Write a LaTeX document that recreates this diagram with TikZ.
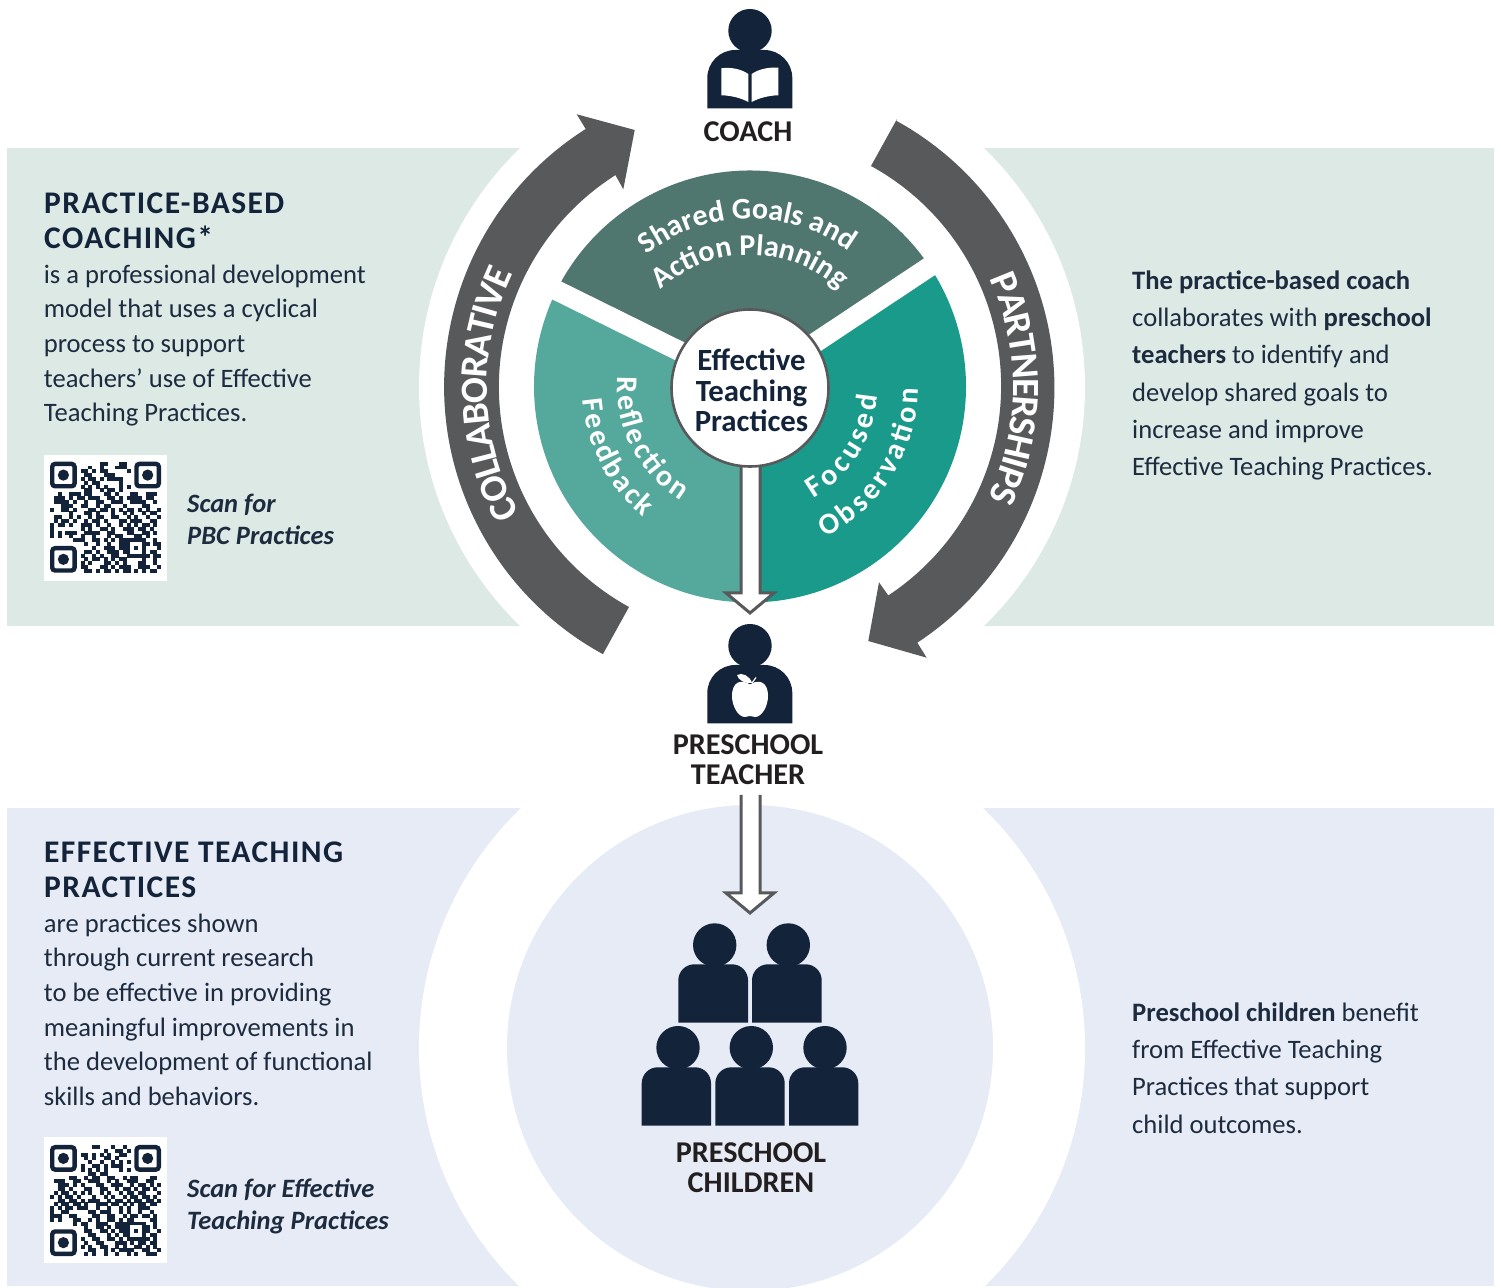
\documentclass[tikz,border=0pt]{standalone}
\usepackage{fontspec}
\setmainfont{Carlito}
\usetikzlibrary{decorations.text,calc}
\definecolor{navy}{HTML}{13233A}
\definecolor{ink}{HTML}{1D2B3F}
\definecolor{blackish}{HTML}{231F20}
\definecolor{greenband}{HTML}{DCE9E5}
\definecolor{blueband}{HTML}{E6EBF6}
\definecolor{arrowgrey}{HTML}{58595B}
\definecolor{wedgetop}{HTML}{50776F}
\definecolor{wedgeleft}{HTML}{55A89C}
\definecolor{wedgeright}{HTML}{1A9A8A}
\tikzset{
  bandtext/.style={anchor=north west,align=left,inner sep=0pt,text=ink,font=\fontsize{26.6}{34.7}\selectfont},
  titletext/.style={anchor=north west,align=left,inner sep=0pt,text=navy,font=\fontsize{31.5}{34.7}\selectfont\bfseries\addfontfeature{LetterSpace=4.5}},
  sidetext/.style={anchor=north west,align=left,inner sep=0pt,text=ink,font=\fontsize{26.6}{37.3}\selectfont},
  scantext/.style={anchor=north west,align=left,inner sep=0pt,text=ink,font=\fontsize{26.5}{32}\selectfont\bfseries\itshape},
  rolelabel/.style={anchor=center,align=center,inner sep=0pt,text=blackish,font=\fontsize{30.2}{30}\selectfont\bfseries},
  hublabel/.style={anchor=center,align=center,inner sep=0pt,text=navy,font=\fontsize{30.8}{30.5}\selectfont\bfseries},
  flow/.style={fill=white,draw=arrowgrey,line width=3pt,line join=miter},
  gapline/.style={white,line width=20pt},
  wedgeword/.style={decorate,decoration={text along path,text color=white,text align=center,text={#1}}},
  arcletter/.style={anchor=base,inner sep=0pt,text=white},
}
\newcommand{\wfont}{\fontsize{30}{30}\selectfont\bfseries}
\newcommand{\afont}{\fontsize{38.5}{39}\selectfont\bfseries}
\newlength\chw
\newcommand{\arcprep}[3]{% name, font, letters: measures each letter before the picture
  \foreach \lt [count=\i] in {#3}{%
    \settowidth\chw{\normalfont#2\lt}%
    \expandafter\xdef\csname arcw#1\i\endcsname{\the\chw}%
  }%
}
\newcommand{\arctext}[7]{% name, mid angle, radius, dir (1 ccw, -1 cw), tracking, font, letters
  \pgfmathparse{-(#5)}\global\let\arctotal\pgfmathresult
  \foreach \lt [count=\i] in {#7}{%
    \edef\wv{\csname arcw#1\i\endcsname}%
    \pgfmathparse{\arctotal+\wv+(#5)}\global\let\arctotal\pgfmathresult
  }%
  \pgfmathparse{-\arctotal/2}\global\let\arcpos\pgfmathresult
  \foreach \lt [count=\i] in {#7}{%
    \edef\wv{\csname arcw#1\i\endcsname}%
    \pgfmathsetmacro\arca{#2+#4*(\arcpos+\wv/2)/#3*57.29578}%
    \pgfmathsetmacro\arcr{\arca+#4*90}%
    \node[arcletter,font=#6,rotate=\arcr] (#1-\i) at ($(M)+(\arca:#3)$) {\lt};
    \pgfmathparse{\arcpos+\wv+(#5)}\global\let\arcpos\pgfmathresult
  }%
}
\AtBeginDocument{%
  \arcprep{foc}{\wfont}{F,o,c,u,s,e,d}%
  \arcprep{obs}{\wfont}{O,b,s,e,r,v,a,ti,o,n}%
  \arcprep{ref}{\wfont}{R,e,fl,e,c,ti,o,n}%
  \arcprep{fee}{\wfont}{F,e,e,d,b,a,c,k}%
  \arcprep{col}{\afont}{C,O,L,L,A,B,O,R,A,T,I,V,E}%
  \arcprep{par}{\afont}{P,A,R,T,N,E,R,S,H,I,P,S}%
}
\newcount\qrcnt
\def\qrscan#1{\ifx#1.\else\if#11\ifnum\numexpr(\qrcnt*7+\ry*13)-((\qrcnt*7+\ry*13)/5)*5\relax=0 \else\fill[navy] ({\qrX+\the\qrcnt*3.83},{\qrY+\ry*3.83}) rectangle +(3.95,3.95);\fi\fi\advance\qrcnt by 1 \expandafter\qrscan\fi}
\newcommand{\qrcode}[3]{%
  \def\qrX{#1}\def\qrY{#2}%
  \foreach \rw [count=\ry from 0] in {#3}{\qrcnt=0 \expandafter\qrscan\rw.}%
  \foreach \fx/\fy in {0/0,22/0,0/22}{%
    \draw[navy,line width=4.4pt,rounded corners=3pt] ({#1+\fx*3.83+2.2},{#2+\fy*3.83+2.2}) rectangle +(22.4,22.4);
    \fill[navy] ({#1+\fx*3.83+13.4},{#2+\fy*3.83+13.4}) circle (5.6);
  }%
  \fill[navy] ({#1+20*3.83},{#2+20*3.83}) rectangle +(19.15,19.15);
  \fill[white] ({#1+21*3.83},{#2+21*3.83}) rectangle +(11.5,11.5);
  \fill[navy] ({#1+22*3.83},{#2+22*3.83}) rectangle +(3.83,3.83);
}
\newcommand{\smallperson}[6]{% head x, head y, x1, x2, top, bottom
  \fill[navy] (#1,#2) circle (21.7);
  \fill[navy,sharp corners] (#3,#6) [rounded corners=16pt] -- (#3,#5) -- (#4,#5) [sharp corners] -- (#4,#6) -- cycle;
}
\newcommand{\bigperson}[6]{%
  \fill[navy] (#1,#2) circle (21.7);
  \fill[navy,sharp corners] (#3,#6) [rounded corners=28pt] -- (#3,#5) -- (#4,#5) [sharp corners] -- (#4,#6) -- cycle;
}
\begin{document}
\begin{tikzpicture}[x=1pt,y=1pt]
\useasboundingbox (0,0) rectangle (1501,1287);
\fill[white] (0,0) rectangle (1501,1287);
\coordinate (M) at (750,900);
\begin{scope}[shift={(0,1287)},y=-1pt]
% bands
\fill[greenband] (7,148) rectangle (1494,626);
\fill[blueband] (7,808) rectangle (1494,1286);
\fill[white] (752,387) circle (333);
\fill[white] (752,1048) circle (333);
\fill[blueband] (750,1048) circle (243);
% big circular arrows
\fill[arrowgrey] (603,654) -- (629,607) arc[start angle=118.8,end angle=237.6,radius=251] -- (623.3,189.3) -- (634.7,130) -- (576.7,114.3) -- (585.7,129) arc[start angle=237.6,end angle=118.8,radius=305] -- cycle;
\fill[arrowgrey] (897,119) -- (871,166) arc[start angle=-61.2,end angle=56.6,radius=251] -- (879,582.3) -- (868.3,641) -- (926.7,657.7) -- (917.3,642.7) arc[start angle=56.6,end angle=-61.2,radius=305] -- cycle;
% wheel
\fill[wedgetop] (750,386.5) -- ++(-33.6:216) arc[start angle=-33.6,end angle=-153.7,radius=216] -- cycle;
\fill[wedgeright] (750,386.5) -- ++(90:216) arc[start angle=90,end angle=-33.6,radius=216] -- cycle;
\fill[wedgeleft] (750,386.5) -- ++(90:216) arc[start angle=90,end angle=206.3,radius=216] -- cycle;
\draw[gapline] (750,386) -- ++(-33.6:224);
\draw[gapline] (750,386) -- ++(-153.7:224);
% flow arrows
\path[flow] (741,466) -- (741,593) -- (726,593) -- (750,613) -- (774,593) -- (760,593) -- (760,466);
\path[flow] (741,795) -- (741,893) -- (726,893) -- (750,913) -- (774,893) -- (760,893) -- (760,795);
% hub
\node[circle,draw=arrowgrey,fill=white,line width=2.6pt,minimum size=157pt,inner sep=0pt] (hub) at (750,388) {};
\node[hublabel] (hubtext) at (751.5,390.5) {Effective\\Teaching\\Practices};
% coach icon
\bigperson{750}{30.7}{707.3}{792.3}{50}{108.3}
\fill[white] (721.3,68.3) .. controls (731,67) and (741,69) .. (748.3,74) -- (748.3,102) .. controls (741,98) and (731,95.5) .. (721.3,95.3) -- cycle;
\fill[white] (751.7,74) .. controls (759,69) and (769,67) .. (778.3,67.7) -- (778.3,95.3) .. controls (769,95.5) and (759,98) .. (751.7,102) -- cycle;
\node[rolelabel] (coach) at (748,132) {COACH};
% teacher icon
\bigperson{750}{645.7}{707.3}{792.3}{665}{723.3}
\fill[white] (750,684.5) .. controls (742,679) and (732,681) .. (732,696) .. controls (732,706) and (738,717) .. (745,717) .. controls (748,717) and (748,716) .. (750,716) .. controls (752,716) and (752,717) .. (755,717) .. controls (762,717) and (768,706) .. (768,696) .. controls (768,681) and (758,679) .. (750,684.5) -- cycle;
\fill[white] (737,675) .. controls (742,672) and (750,676) .. (752,683) .. controls (745,684) and (738,680) .. (737,675) -- cycle;
\draw[white,line width=1.2pt] (752,683) -- (756,677.5);
\node[rolelabel] (teacher) at (748,760) {PRESCHOOL\\TEACHER};
% children
\smallperson{714.7}{945}{678.3}{748}{964.3}{1022.7}
\smallperson{788.3}{945}{752}{821.7}{964.3}{1022.7}
\smallperson{678}{1047.7}{641.7}{711}{1067.3}{1125.7}
\smallperson{751.3}{1047.7}{715.3}{784.7}{1067.3}{1125.7}
\smallperson{825}{1047.7}{789}{858.3}{1067.3}{1125.7}
\node[rolelabel] (children) at (751,1168) {PRESCHOOL\\CHILDREN};
% left texts
\node[titletext] (t1) at (44,193) {PRACTICE-BASED\\COACHING*};
\node[bandtext] (b1) at (43.7,264.5) {is a professional development\\model that uses a cyclical\\process to support\\teachers’ use of Effective\\Teaching Practices.};
\node[titletext] (t2) at (44,842) {EFFECTIVE TEACHING\\PRACTICES};
\node[bandtext] (b2) at (43.7,913.5) {are practices shown\\through current research\\to be effective in providing\\meaningful improvements in\\the development of functional\\skills and behaviors.};
\node[scantext] (s1) at (187,494) {Scan for\\PBC Practices};
\node[scantext] (s2) at (187,1179) {Scan for Effective\\Teaching Practices};
% right texts
\node[sidetext] (r1) at (1132,270.5) {\textbf{The practice-based coach}\\collaborates with \textbf{preschool}\\\textbf{teachers} to identify and\\develop shared goals to\\increase and improve\\Effective Teaching Practices.};
\node[sidetext] (r2) at (1132,1002.5) {\textbf{Preschool children} benefit\\from Effective Teaching\\Practices that support\\child outcomes.};
% QR codes
\fill[white] (44,455) rectangle (166.7,580.7);
\qrcode{50}{461.7}{%
00000000000001100011000000000,
00000000001101000111000000000,
00000000110101100100100000000,
00000000011000111010000000000,
00000000101101011111000000000,
00000000010110010010000000000,
00000000101010101010100000000,
00000000011001011010000000000,
00110111011001110110011101110,
01111101101110011011111111100,
11111110011011001110111111010,
01011100110110111001010011100,
10111011001101101110110101011,
00000100111011001011010110110,
01101101011011101101101011001,
11011010010110110011011101110,
10110110111010011010101011010,
10100001101001101101110110100,
10101110011110011010110011011,
10100100110100110111001101000,
00000011100110111011101111010,
00000000010110011011111011011,
00000000000110111011011010001,
00000000011011011101101010111,
00000000110101101101111111011,
00000000010110111011000011010,
00000000101100110101010110110,
00000000110011101011100111011,
00000000011010110101101010110}{}
\fill[white] (44,1137.3) rectangle (166.7,1262.7);
\qrcode{50}{1145}{%
00000000001110011001100000000,
00000000000100101110100000000,
00000000110111010011000000000,
00000000010101110110000000000,
00000000011001001010100000000,
00000000100110101110000000000,
00000000101010101010100000000,
00000000001101100000000000000,
00010110110111011011011100110,
01111011001110110101111011100,
10111110100011011110110110101,
00110110011101100101101011110,
01011011101011010110110110011,
10101101100101101011011011010,
00110110101110110110101101101,
11011011010011101101110110110,
10101101110110011010110111000,
10111001001101110110101100100,
11100110100111011011011011011,
10100011011010111010110010110,
00000010110011110111011111010,
00000000010111011111110011010,
00000000011011101011011001001,
00000000001101010111010110111,
00000000110110111011111011010,
00000000011011010111010110110,
00000000101001101101011101010,
00000000001100101011110011011,
00000000010101100110101101110}{}
\end{scope}
% curved text (y up)
\path[wedgeword={|\wfont|Shared Goals and}] (M) ++(136:168) arc[start angle=136,end angle=46,radius=168];
\path[wedgeword={|\wfont|Ac{ti}on Planning}] (M) ++(140:132) arc[start angle=140,end angle=40,radius=132];
\arctext{foc}{-32}{128}{1}{4}{\wfont}{F,o,c,u,s,e,d}
\arctext{obs}{-32}{168}{1}{3.5}{\wfont}{O,b,s,e,r,v,a,ti,o,n}
\arctext{ref}{207}{133}{1}{3}{\wfont}{R,e,fl,e,c,ti,o,n}
\arctext{fee}{207.5}{168}{1}{2.6}{\wfont}{F,e,e,d,b,a,c,k}
\arctext{col}{181.6}{263}{-1}{-1.3}{\afont}{C,O,L,L,A,B,O,R,A,T,I,V,E}
\arctext{par}{-0.3}{263}{-1}{-1.4}{\afont}{P,A,R,T,N,E,R,S,H,I,P,S}
\end{tikzpicture}
\end{document}
